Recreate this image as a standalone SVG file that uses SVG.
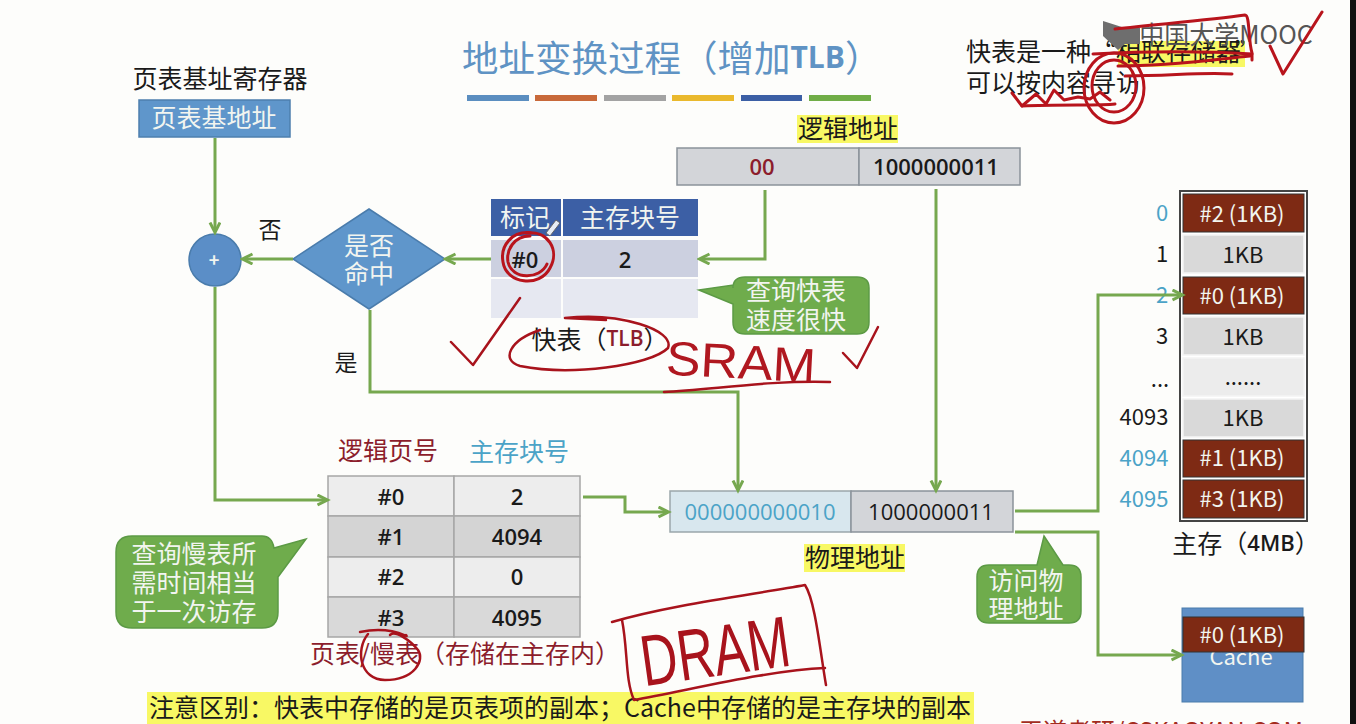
<svg xmlns="http://www.w3.org/2000/svg" width="1356" height="724" viewBox="0 0 1356 724">
<style>
text{font-family:"Noto Sans CJK SC","Noto Sans",sans-serif;text-anchor:middle;dominant-baseline:central;font-size:25px;fill:#1a1a1a}
.w{fill:#f2f5f0}
.lat{font-family:"Open Sans","Noto Sans",sans-serif;font-weight:600;font-size:22px}
.m{font-size:22px}
.blue{fill:#4ba3c7}
.red{fill:#8c1d2c}
.cell{fill:#d9d9d9;stroke:#a6a6a6;stroke-width:1.5}
.cell2{fill:#ededed;stroke:#a6a6a6;stroke-width:1.5}
.addr{fill:#d3d5d9;stroke:#8b929a;stroke-width:1.5}
.mem{fill:#d9d9d9;stroke:#f4f4f4;stroke-width:1.5}
.blk{fill:#7e2a14;stroke:#333;stroke-width:1}
.yl{fill:#f8f864}
.bub{fill:#6fac4c;stroke:#5c9a45;stroke-width:1.5}
.con{fill:none;stroke:#76a84f;stroke-width:3;marker-end:url(#a)}
.ink{fill:none;stroke:#b8141c;stroke-width:3;stroke-linecap:round;stroke-linejoin:round}
.inkd{fill:none;stroke:#a8131c;stroke-width:2.5;stroke-linecap:round;stroke-linejoin:round}
</style>
<defs>
<marker id="a" markerWidth="14" markerHeight="14" refX="10.5" refY="6" orient="auto" markerUnits="userSpaceOnUse"><path d="M1 1 L11 6 L1 11" fill="none" stroke="#76a84f" stroke-width="3"/></marker>
</defs>
<rect width="1356" height="724" fill="#fdfdfb"/>
<rect x="1350" width="6" height="724" fill="#111"/>

<g id="title">
<text x="462" y="56" style="font-size:36.5px;fill:#5f93c4;text-anchor:start">地址变换过程（增加<tspan font-family="Open Sans" font-weight="700" font-size="30">TLB</tspan>）</text>
<rect x="467" y="95" width="62" height="6" fill="#5b8ec0"/>
<rect x="535" y="95" width="62" height="6" fill="#c8693a"/>
<rect x="604" y="95" width="62" height="6" fill="#a3a3a3"/>
<rect x="672" y="95" width="62" height="6" fill="#eab92d"/>
<rect x="741" y="95" width="61" height="6" fill="#3c5fa5"/>
<rect x="809" y="95" width="62" height="6" fill="#70ad47"/>
</g>

<g id="note-assoc">
<rect x="1118" y="41" width="127" height="26" class="yl"/>
<text x="966" y="50" style="text-anchor:start">快表是一种“相联存储器<tspan dx="-6">”</tspan></text>
<text x="966" y="81" style="text-anchor:start">可以按内容寻访</text>
</g>
<g id="watermark">
<path d="M1103 21 L1125 28 L1140 28 L1140 44 L1125 44 L1118 50 L1103 36Z" fill="#6e6e6e"/>
<text x="1226" y="33" style="fill:#555">中国大学MOOC</text>
</g>

<g id="ptr-label"><text x="220" y="77">页表基址寄存器</text></g>
<g id="ptr"><rect x="139" y="100" width="151" height="37" fill="#5f96cb" stroke="#4d7fae" stroke-width="1.5"/><text class="w" x="214" y="116">页表基地址</text></g>

<g id="adder"><circle cx="215" cy="260" r="26" fill="#5b8ec7" stroke="#4a7cac" stroke-width="1.5"/><text class="w" x="214" y="259" style="font-size:18px;font-weight:700">+</text></g>
<g id="decision"><path d="M369 209 L445 259 L369 309 L293 259Z" fill="#5f96cb" stroke="#4a7cac" stroke-width="1.5"/><text class="w" x="369" y="244">是否</text><text class="w" x="369" y="272">命中</text></g>
<text x="270" y="228" style="font-size:23px">否</text>
<text x="346" y="361" style="font-size:23px">是</text>

<g id="tlb">
<rect x="491" y="199" width="70" height="37" fill="#3c5fa5"/>
<rect x="563" y="199" width="135" height="37" fill="#3c5fa5"/>
<text class="w" x="525" y="216">标记</text>
<text class="w" x="630" y="216">主存块号</text>
<rect x="491" y="240" width="70" height="37" fill="#ccd0e0"/>
<rect x="563" y="240" width="135" height="37" fill="#ccd0e0"/>
<text class="lat" x="525" y="259">#0</text>
<text class="lat" x="625" y="259">2</text>
<rect x="491" y="279" width="70" height="39" fill="#e6e8f1"/>
<rect x="563" y="279" width="135" height="39" fill="#e6e8f1"/>
<path d="M546 233 L556 220 L560 223 L550 236Z" fill="#e8eef5" stroke="#666" stroke-width="1"/>
</g>
<g id="tlb-label"><text x="600" y="338">快表（<tspan font-family="Open Sans" font-weight="600" font-size="21" fill="#8c1d2c">TLB</tspan>）</text></g>

<g id="bubble-tlb"><path d="M699 290 L733 285 V288 Q733 277 745 277 H857 Q869 277 869 288 V322 Q869 334 857 334 H745 Q733 334 733 322 V304Z" class="bub"/><text class="w" x="796" y="289">查询快表</text><text class="w" x="796" y="318">速度很快</text></g>

<g id="logical">
<rect x="797" y="115" width="101" height="28" class="yl"/>
<text x="848" y="127">逻辑地址</text>
<rect x="677" y="148" width="182" height="37" class="addr"/>
<rect x="859" y="148" width="161" height="37" class="addr"/>
<text class="lat red" x="762" y="166">00</text>
<text class="lat" x="936" y="166">1000000011</text>
</g>

<g id="page-table">
<text class="red" x="388" y="449">逻辑页号</text>
<text class="blue" x="519" y="450">主存块号</text>
<rect x="328" y="476" width="126" height="40" class="cell2"/><rect x="454" y="476" width="126" height="40" class="cell2"/>
<rect x="328" y="516" width="126" height="41" class="cell" style="fill:#d4d4d4"/><rect x="454" y="516" width="126" height="41" class="cell" style="fill:#d4d4d4"/>
<rect x="328" y="557" width="126" height="40" class="cell2"/><rect x="454" y="557" width="126" height="40" class="cell2"/>
<rect x="328" y="597" width="126" height="40" class="cell"/><rect x="454" y="597" width="126" height="40" class="cell"/>
<text class="lat" x="391" y="496">#0</text><text class="lat" x="517" y="496">2</text>
<text class="lat" x="391" y="536">#1</text><text class="lat" x="517" y="536">4094</text>
<text class="lat" x="391" y="576">#2</text><text class="lat" x="517" y="576">0</text>
<text class="lat" x="391" y="617">#3</text><text class="lat" x="517" y="617">4095</text>
<text class="red" x="465" y="652">页表/慢表（存储在主存内）</text>
</g>

<g id="bubble-slow"><path d="M306 539 L278 577 V612 Q278 628 262 628 H132 Q116 628 116 612 V552 Q116 536 132 536 H262 Q272 536 274 548Z" class="bub"/><text class="w" x="194" y="552">查询慢表所</text><text class="w" x="194" y="581">需时间相当</text><text class="w" x="194" y="610">于一次访存</text></g>

<g id="physical">
<rect x="670" y="491" width="181" height="41" fill="#d8e7ee" stroke="#9aa6ab" stroke-width="1.5"/>
<rect x="851" y="491" width="162" height="41" class="addr"/>
<text class="lat blue" x="760" y="511" style="font-weight:400">000000000010</text>
<text class="lat" x="931" y="511" style="font-weight:500">1000000011</text>
<rect x="804" y="544" width="101" height="28" class="yl"/>
<text x="855" y="556">物理地址</text>
</g>

<g id="bubble-phys"><path d="M1044 536 L1063 565 H1069 Q1081 565 1081 577 V611 Q1081 623 1069 623 H989 Q977 623 977 611 V577 Q977 565 989 565 H1037Z" class="bub"/><text class="w" x="1026" y="579">访问物</text><text class="w" x="1026" y="607">理地址</text></g>

<g id="memory">
<rect x="1180" y="191" width="127" height="330" fill="#fff" stroke="#444" stroke-width="2"/>
<rect x="1183" y="194" width="121" height="38" class="blk"/><text class="w m" x="1242" y="212">#2 (1KB)</text>
<rect x="1183" y="235" width="121" height="38" class="mem"/><text class="m" x="1243" y="253">1KB</text>
<rect x="1183" y="277" width="121" height="37" class="blk"/><text class="w m" x="1242" y="294">#0 (1KB)</text>
<rect x="1183" y="317" width="121" height="38" class="mem"/><text class="m" x="1243" y="335">1KB</text>
<rect x="1183" y="358" width="121" height="38" class="mem" style="fill:#ececec"/><text class="m" x="1243" y="375">......</text>
<rect x="1183" y="399" width="121" height="38" class="mem"/><text class="m" x="1243" y="416">1KB</text>
<rect x="1183" y="440" width="121" height="37" class="blk"/><text class="w m" x="1242" y="456">#1 (1KB)</text>
<rect x="1183" y="480" width="121" height="38" class="blk"/><text class="w m" x="1242" y="497">#3 (1KB)</text>
<text class="blue m" x="1162" y="211">0</text><text class="m" x="1162" y="252">1</text><text class="blue m" x="1162" y="293">2</text><text class="m" x="1162" y="334">3</text><text class="m" x="1160" y="377">...</text><text class="m" x="1144" y="415">4093</text><text class="blue m" x="1144" y="456">4094</text><text class="blue m" x="1144" y="497">4095</text>
<text x="1246" y="542">主存（<tspan font-family="Open Sans" font-weight="600" font-size="22">4MB</tspan>）</text>
</g>

<g id="cache">
<rect x="1182" y="608" width="121" height="94" fill="#5f8fc6" stroke="#4a7cac"/>
<text class="w" x="1241" y="655" style="font-size:22px">Cache</text>
<rect x="1183" y="617" width="121" height="35" class="blk"/>
<text class="w m" x="1242" y="633">#0 (1KB)</text>
</g>

<g id="bottom-note">
<rect x="147" y="692" width="827" height="32" class="yl"/>
<text x="560" y="706">注意区别：快表中存储的是页表项的副本；Cache中存储的是主存块的副本</text>
<text x="1161" y="729" style="font-size:24px;fill:#a32c1e">王道考研/CSKAOYAN.COM</text>
</g>

<g id="connectors">
<path class="con" d="M215 138 V232"/>
<path class="con" d="M293 259 H243"/>
<path class="con" d="M491 259 H446"/>
<path class="con" d="M765 190 V259 H700"/>
<path class="con" d="M936 189 V490"/>
<path class="con" d="M370 310 V392 H738 V490"/>
<path class="con" d="M215 287 V500 H327"/>
<path class="con" d="M583 497 H625 V512 H668"/>
<path class="con" d="M1015 511 H1098 V295 H1182"/>
<path class="con" d="M1015 532 H1098 V655 H1181"/>
</g>

<g id="ink">
<path class="ink" d="M1115 29 C1160 24 1210 20 1245 15 C1250 15 1248 40 1252 53 L1252 60"/>
<path class="ink" d="M1093 54 C1130 52 1190 50 1252 54"/>
<path class="ink" d="M1118 66 C1170 66 1210 60 1250 56"/>
<path class="ink" d="M1125 76 C1170 76 1200 72 1232 74"/>
<path class="ink" d="M1270 46 L1283 74 L1322 12"/>
<path class="ink" d="M1012 93 L1022 106 L1036 94 L1046 104 L1054 90 L1064 100 L1078 97 L1090 99 L1100 92 L1110 100"/>
<path class="ink" d="M1022 106 C1060 104 1100 106 1115 104"/>
<ellipse class="ink" cx="1114" cy="88" rx="30" ry="35"/>
<ellipse class="ink" cx="1114" cy="86" rx="22" ry="26"/>
<path class="ink" d="M532 233 C512 230 500 246 503 262 C506 284 540 288 550 268 C560 250 548 230 526 233"/>
<path class="ink" d="M530 236 C514 236 506 250 508 262 C512 280 540 280 547 264"/>
<path class="inkd" d="M451 342 L473 365 L520 298"/>
<path class="inkd" d="M540 330 C510 340 500 360 520 366 C570 376 650 366 668 348 C675 330 620 312 565 318 L606 320"/>
<text x="741" y="362" style="font-size:48px;fill:#b01820;font-family:'Liberation Sans';font-weight:400" textLength="150" lengthAdjust="spacingAndGlyphs" transform="rotate(3 741 362)">SRAM</text>
<path class="inkd" d="M664 392 C710 390 770 380 830 382"/>
<path class="inkd" d="M843 353 L857 368 L878 327"/>
<path class="inkd" d="M360 632 C395 625 410 640 406 635 M368 634 C355 650 360 680 385 680 C415 680 425 660 418 650 C410 640 395 630 390 635"/>
<path class="inkd" d="M612 622 C670 605 750 595 805 585 C815 600 820 650 826 685"/>
<path class="inkd" d="M622 620 C628 650 625 680 634 700 C690 690 770 670 825 668"/>
<text x="715" y="651" style="font-size:72px;fill:#a8131c;font-family:'Liberation Sans Narrow','Liberation Sans';font-weight:400" textLength="150" lengthAdjust="spacingAndGlyphs" transform="rotate(-8 715 651)">DRAM</text>
</g>
</svg>
